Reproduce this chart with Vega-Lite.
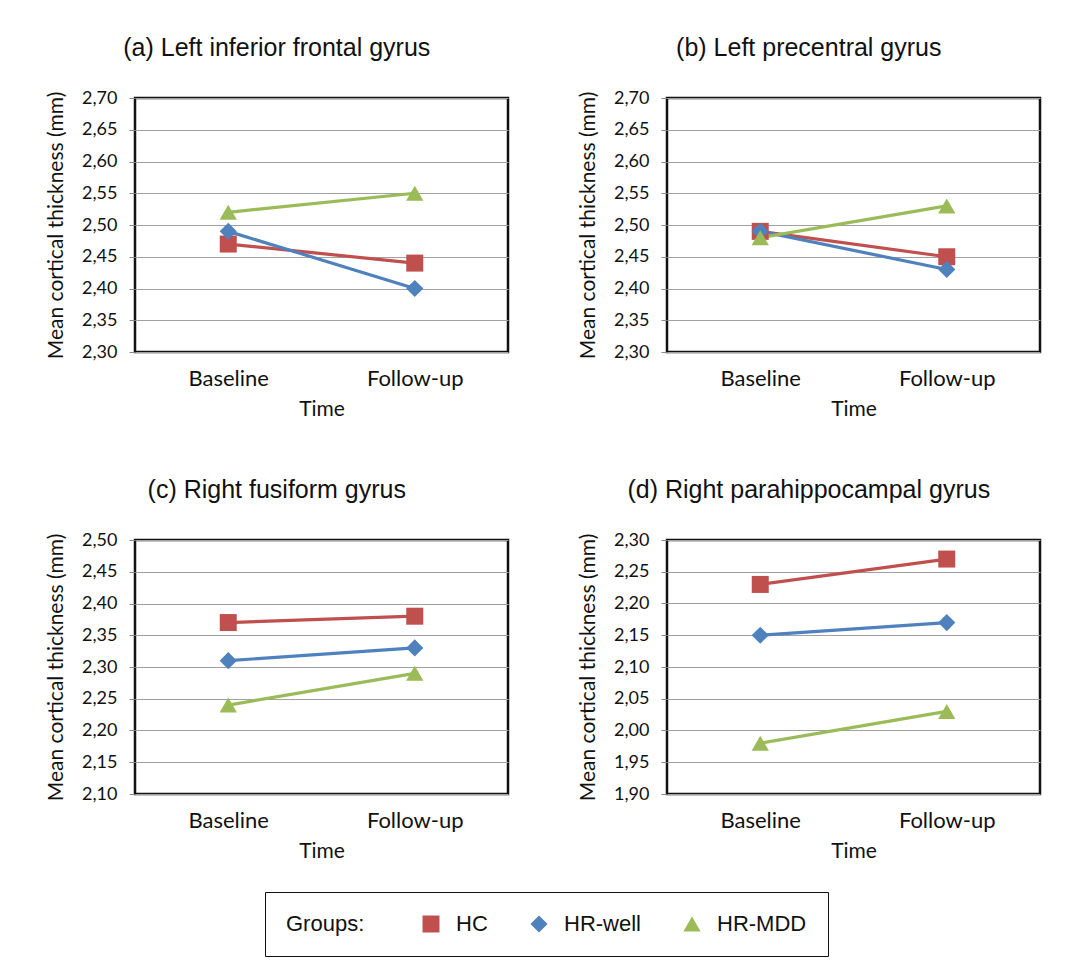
{
  "$schema": "https://vega.github.io/schema/vega-lite/v6.json",
  "padding": {"left": 44, "top": 34, "right": 10, "bottom": 10},
  "background": "white",
  "data": {"values": [
    {"region": "a", "time": "Baseline", "group": "HC", "value": 2.47},
    {"region": "a", "time": "Follow-up", "group": "HC", "value": 2.44},
    {"region": "a", "time": "Baseline", "group": "HR-well", "value": 2.49},
    {"region": "a", "time": "Follow-up", "group": "HR-well", "value": 2.40},
    {"region": "a", "time": "Baseline", "group": "HR-MDD", "value": 2.52},
    {"region": "a", "time": "Follow-up", "group": "HR-MDD", "value": 2.55},
    {"region": "b", "time": "Baseline", "group": "HC", "value": 2.49},
    {"region": "b", "time": "Follow-up", "group": "HC", "value": 2.45},
    {"region": "b", "time": "Baseline", "group": "HR-well", "value": 2.49},
    {"region": "b", "time": "Follow-up", "group": "HR-well", "value": 2.43},
    {"region": "b", "time": "Baseline", "group": "HR-MDD", "value": 2.48},
    {"region": "b", "time": "Follow-up", "group": "HR-MDD", "value": 2.53},
    {"region": "c", "time": "Baseline", "group": "HC", "value": 2.37},
    {"region": "c", "time": "Follow-up", "group": "HC", "value": 2.38},
    {"region": "c", "time": "Baseline", "group": "HR-well", "value": 2.31},
    {"region": "c", "time": "Follow-up", "group": "HR-well", "value": 2.33},
    {"region": "c", "time": "Baseline", "group": "HR-MDD", "value": 2.24},
    {"region": "c", "time": "Follow-up", "group": "HR-MDD", "value": 2.29},
    {"region": "d", "time": "Baseline", "group": "HC", "value": 2.23},
    {"region": "d", "time": "Follow-up", "group": "HC", "value": 2.27},
    {"region": "d", "time": "Baseline", "group": "HR-well", "value": 2.15},
    {"region": "d", "time": "Follow-up", "group": "HR-well", "value": 2.17},
    {"region": "d", "time": "Baseline", "group": "HR-MDD", "value": 1.98},
    {"region": "d", "time": "Follow-up", "group": "HR-MDD", "value": 2.03}
  ]},
  "columns": 2,
  "spacing": {"row": 55, "column": 66},
  "concat": [
    {
      "title": "(a) Left inferior frontal gyrus",
      "width": 373, "height": 254,
      "transform": [{"filter": "datum.region === 'a'"}],
      "encoding": {
        "x": {"field": "time", "type": "nominal", "sort": ["Baseline", "Follow-up"], "scale": {"type": "point", "padding": 0.5}, "axis": {"title": "Time"}},
        "y": {"field": "value", "type": "quantitative", "scale": {"domain": [2.3, 2.7], "zero": false, "nice": false}, "axis": {"title": "Mean cortical thickness (mm)", "values": [2.3, 2.35, 2.4, 2.45, 2.5, 2.55, 2.6, 2.65, 2.7], "labelExpr": "replace(format(datum.value, '.2f'), '.', ',')"}},
        "color": {"field": "group", "type": "nominal", "scale": {"domain": ["HC", "HR-well", "HR-MDD"], "range": ["#C0504D", "#4F81BD", "#9BBB59"]},
          "legend": {"title": "Groups:", "orient": "none", "legendX": 130, "legendY": 794, "direction": "horizontal", "titleOrient": "left"}}
      },
      "layer": [
        {"mark": {"type": "line", "strokeWidth": 3.2}},
        {"mark": {"type": "point", "filled": true, "opacity": 1},
         "encoding": {
           "shape": {"field": "group", "type": "nominal", "scale": {"domain": ["HC", "HR-well", "HR-MDD"], "range": ["square", "diamond", "triangle-up"]},
             "legend": {"title": "Groups:", "orient": "none", "legendX": 130, "legendY": 794, "direction": "horizontal", "titleOrient": "left"}},
           "size": {"field": "group", "type": "ordinal", "scale": {"domain": ["HC", "HR-well", "HR-MDD"], "range": [289, 300, 380]}, "legend": null}
         }}
      ]
    },
    {
      "title": "(b) Left precentral gyrus",
      "width": 373, "height": 254,
      "transform": [{"filter": "datum.region === 'b'"}],
      "encoding": {
        "x": {"field": "time", "type": "nominal", "sort": ["Baseline", "Follow-up"], "scale": {"type": "point", "padding": 0.5}, "axis": {"title": "Time"}},
        "y": {"field": "value", "type": "quantitative", "scale": {"domain": [2.3, 2.7], "zero": false, "nice": false}, "axis": {"title": "Mean cortical thickness (mm)", "values": [2.3, 2.35, 2.4, 2.45, 2.5, 2.55, 2.6, 2.65, 2.7], "labelExpr": "replace(format(datum.value, '.2f'), '.', ',')"}},
        "color": {"field": "group", "type": "nominal", "scale": {"domain": ["HC", "HR-well", "HR-MDD"], "range": ["#C0504D", "#4F81BD", "#9BBB59"]}}
      },
      "layer": [
        {"mark": {"type": "line", "strokeWidth": 3.2}},
        {"mark": {"type": "point", "filled": true, "opacity": 1},
         "encoding": {
           "shape": {"field": "group", "type": "nominal", "scale": {"domain": ["HC", "HR-well", "HR-MDD"], "range": ["square", "diamond", "triangle-up"]}},
           "size": {"field": "group", "type": "ordinal", "scale": {"domain": ["HC", "HR-well", "HR-MDD"], "range": [289, 300, 380]}, "legend": null}
         }}
      ]
    },
    {
      "title": "(c) Right fusiform gyrus",
      "width": 373, "height": 254,
      "transform": [{"filter": "datum.region === 'c'"}],
      "encoding": {
        "x": {"field": "time", "type": "nominal", "sort": ["Baseline", "Follow-up"], "scale": {"type": "point", "padding": 0.5}, "axis": {"title": "Time"}},
        "y": {"field": "value", "type": "quantitative", "scale": {"domain": [2.1, 2.5], "zero": false, "nice": false}, "axis": {"title": "Mean cortical thickness (mm)", "values": [2.1, 2.15, 2.2, 2.25, 2.3, 2.35, 2.4, 2.45, 2.5], "labelExpr": "replace(format(datum.value, '.2f'), '.', ',')"}},
        "color": {"field": "group", "type": "nominal", "scale": {"domain": ["HC", "HR-well", "HR-MDD"], "range": ["#C0504D", "#4F81BD", "#9BBB59"]}}
      },
      "layer": [
        {"mark": {"type": "line", "strokeWidth": 3.2}},
        {"mark": {"type": "point", "filled": true, "opacity": 1},
         "encoding": {
           "shape": {"field": "group", "type": "nominal", "scale": {"domain": ["HC", "HR-well", "HR-MDD"], "range": ["square", "diamond", "triangle-up"]}},
           "size": {"field": "group", "type": "ordinal", "scale": {"domain": ["HC", "HR-well", "HR-MDD"], "range": [289, 300, 380]}, "legend": null}
         }}
      ]
    },
    {
      "title": "(d) Right parahippocampal gyrus",
      "width": 373, "height": 254,
      "transform": [{"filter": "datum.region === 'd'"}],
      "encoding": {
        "x": {"field": "time", "type": "nominal", "sort": ["Baseline", "Follow-up"], "scale": {"type": "point", "padding": 0.5}, "axis": {"title": "Time"}},
        "y": {"field": "value", "type": "quantitative", "scale": {"domain": [1.9, 2.3], "zero": false, "nice": false}, "axis": {"title": "Mean cortical thickness (mm)", "values": [1.9, 1.95, 2.0, 2.05, 2.1, 2.15, 2.2, 2.25, 2.3], "labelExpr": "replace(format(datum.value, '.2f'), '.', ',')"}},
        "color": {"field": "group", "type": "nominal", "scale": {"domain": ["HC", "HR-well", "HR-MDD"], "range": ["#C0504D", "#4F81BD", "#9BBB59"]}}
      },
      "layer": [
        {"mark": {"type": "line", "strokeWidth": 3.2}},
        {"mark": {"type": "point", "filled": true, "opacity": 1},
         "encoding": {
           "shape": {"field": "group", "type": "nominal", "scale": {"domain": ["HC", "HR-well", "HR-MDD"], "range": ["square", "diamond", "triangle-up"]}},
           "size": {"field": "group", "type": "ordinal", "scale": {"domain": ["HC", "HR-well", "HR-MDD"], "range": [289, 300, 380]}, "legend": null}
         }}
      ]
    }
  ],
  "config": {
    "view": {"stroke": "#111111", "strokeWidth": 2.5},
    "axis": {"labelFont": "Lato", "labelFontSize": 19, "labelColor": "#111111", "titleFont": "Lato", "titleFontSize": 21, "titleFontWeight": "normal", "titleColor": "#111111"},
    "axisY": {"grid": true, "gridColor": "#a0a0a0", "gridWidth": 1.2, "domain": false, "tickColor": "#888888", "tickSize": 6, "labelPadding": 12, "titlePadding": 15, "labelFontSize": 18},
    "axisX": {"grid": false, "domain": false, "ticks": false, "labelPadding": 16, "titlePadding": 9, "labelAngle": 0, "labelFontSize": 22},
    "title": {"font": "Liberation Sans", "fontSize": 25, "fontWeight": "normal", "color": "#111111", "anchor": "middle", "frame": "bounds", "offset": 28},
    "legend": {"labelFont": "Liberation Sans", "labelFontSize": 22, "labelColor": "#111111", "titleFont": "Liberation Sans", "titleFontSize": 22, "titleFontWeight": "normal", "titleColor": "#111111", "strokeColor": "#111111", "padding": 21, "titlePadding": 55, "labelOffset": 14, "columnPadding": 40, "symbolSize": 484, "symbolStrokeWidth": 0, "titleBaseline": "middle"}
  }
}
